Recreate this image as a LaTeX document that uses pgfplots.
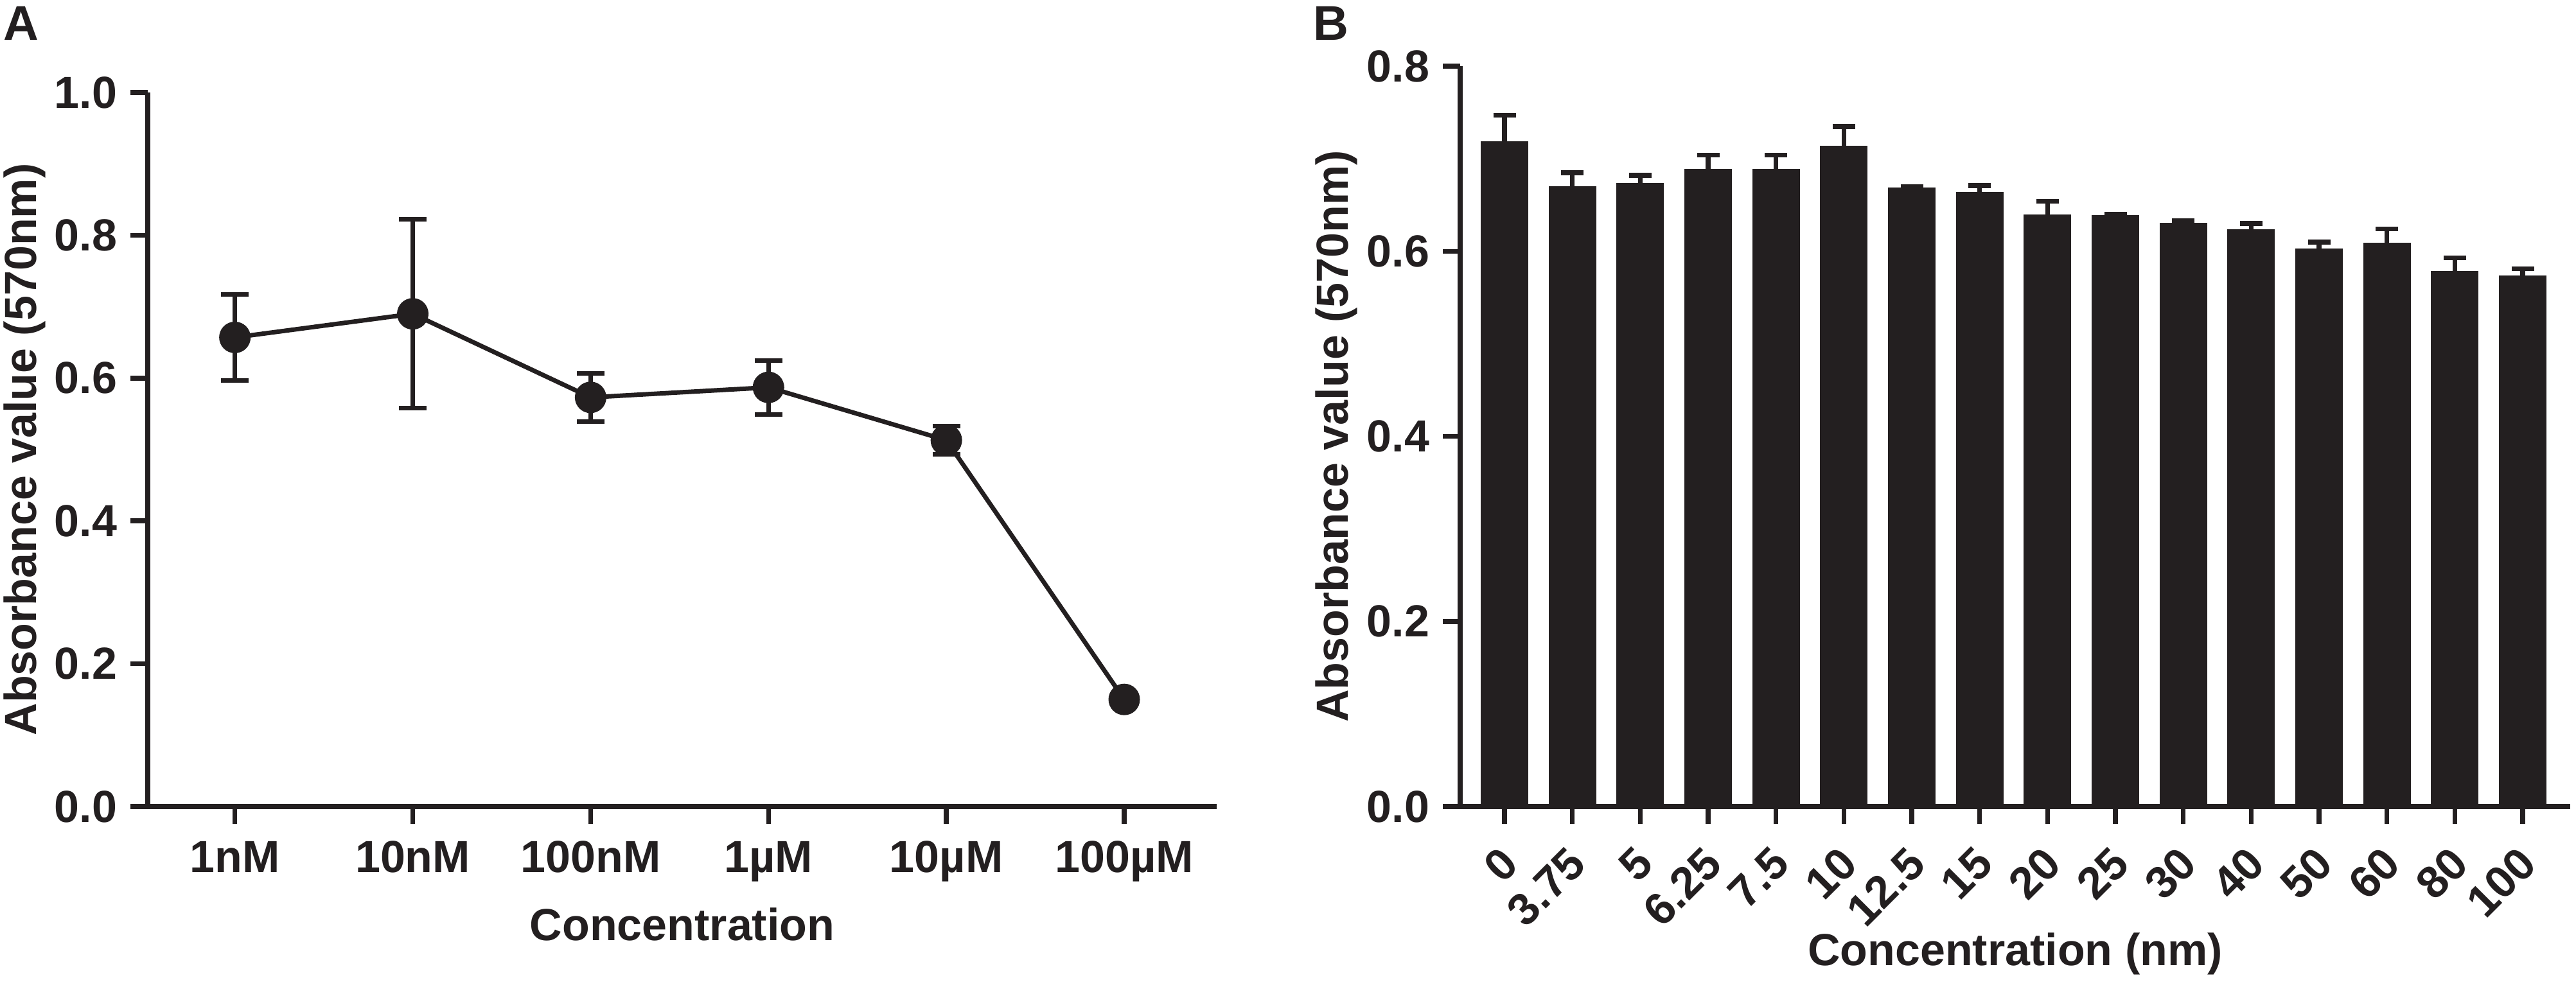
\documentclass[border=0pt]{standalone}
\usepackage{fontspec}
\setmainfont{Liberation Sans}
\usepackage{pgfplots}
\usepackage{pgfplotstable}
\pgfplotsset{compat=1.18}
\definecolor{ink}{RGB}{35,31,32}

\pgfplotstableread{
x y e
0 0.657 0.060
1 0.690 0.132
2 0.573 0.034
3 0.587 0.038
4 0.513 0.020
5 0.150 0.004
}\tableA

\pgfplotstableread{
x y e
0  0.718 0.029
1  0.669 0.016
2  0.673 0.009
3  0.688 0.016
4  0.688 0.016
5  0.713 0.022
6  0.668 0.002
7  0.663 0.008
8  0.639 0.015
9  0.638 0.002
10 0.630 0.003
11 0.623 0.007
12 0.602 0.008
13 0.608 0.016
14 0.578 0.015
15 0.573 0.008
}\tableB

\pgfplotsset{
  prism/.style={
    scale only axis,
    anchor=south west,
    axis x line=bottom, axis y line=left,
    axis line style={-, line width=0.75bp, ink},
    every tick/.style={line width=0.75bp, ink},
    major tick length=2.7bp,
    tick align=outside,
    ymin=0,
    every tick label/.append style={font=\fontsize{7bp}{8bp}\selectfont\bfseries, text=ink, inner sep=0pt},
    /pgf/number format/assume math mode=true,
    yticklabel style={/pgf/number format/fixed, /pgf/number format/fixed zerofill, /pgf/number format/precision=1, anchor=east, xshift=-1.9bp},
    label style={font=\fontsize{7bp}{8bp}\selectfont\bfseries, text=ink, inner sep=0pt},
    clip=false,
  }
}

\begin{document}
\begin{tikzpicture}
\path[use as bounding box] (0,0) rectangle (401bp,153.7bp);

\node[anchor=base west, inner sep=0pt, font=\fontsize{7.6bp}{8bp}\selectfont\bfseries, text=ink] at (0.4bp,147.4bp) {A};
\node[anchor=base west, inner sep=0pt, font=\fontsize{7.6bp}{8bp}\selectfont\bfseries, text=ink] at (204.2bp,147.4bp) {B};

\begin{axis}[prism,
  at={(23bp,28.1bp)},
  width=166.4bp, height=111.2bp,
  xmin=-0.49, xmax=5.52,
  ymax=1.0,
  ytick={0,0.2,0.4,0.6,0.8,1.0},
  xtick={0,1,2,3,4,5},
  xticklabels={1nM,10nM,100nM,1µM,10µM,100µM},
  xticklabel style={anchor=north, yshift=-2.5bp},
  xlabel={Concentration},
  ylabel={Absorbance value (570nm)},
  xlabel style={at={(axis description cs:0.5,-0.1403)}, anchor=north},
  ylabel style={at={(axis description cs:-0.1154,0.5)}, anchor=center},
]
\addplot[ink, line width=0.7bp, mark=*, mark size=2.1bp,
  mark options={fill=ink, draw=ink, solid},
  error bars/.cd, y dir=both, y explicit,
  error bar style={line width=0.7bp, ink},
  error mark options={line width=0.7bp, mark size=2.15bp, rotate=90, ink}]
  table[x=x, y=y, y error=e] {\tableA};
\end{axis}

\begin{axis}[prism,
  at={(227.3bp,28.1bp)},
  width=172.8bp, height=115.3bp,
  xmin=-0.653, xmax=15.70,
  ymax=0.8,
  ytick={0,0.2,0.4,0.6,0.8},
  xtick={0,...,15},
  xticklabels={0,3.75,5,6.25,7.5,10,12.5,15,20,25,30,40,50,60,80,100},
  xticklabel style={xshift=-1.0bp, yshift=-2.95bp, rotate=45, anchor=north east},
  xlabel={Concentration (nm)},
  ylabel={Absorbance value (570nm)},
  xlabel style={at={(axis description cs:0.5,-0.1691)}, anchor=north},
  ylabel style={at={(axis description cs:-0.1117,0.5)}, anchor=center},
]
\addplot[ybar, bar width=7.1bp, fill=ink, draw=ink, line width=0.3bp,
  error bars/.cd, y dir=plus, y explicit,
  error bar style={line width=0.75bp, ink},
  error mark options={line width=0.75bp, mark size=1.75bp, rotate=90, ink}]
  table[x=x, y=y, y error=e] {\tableB};
\end{axis}
\end{tikzpicture}
\end{document}
